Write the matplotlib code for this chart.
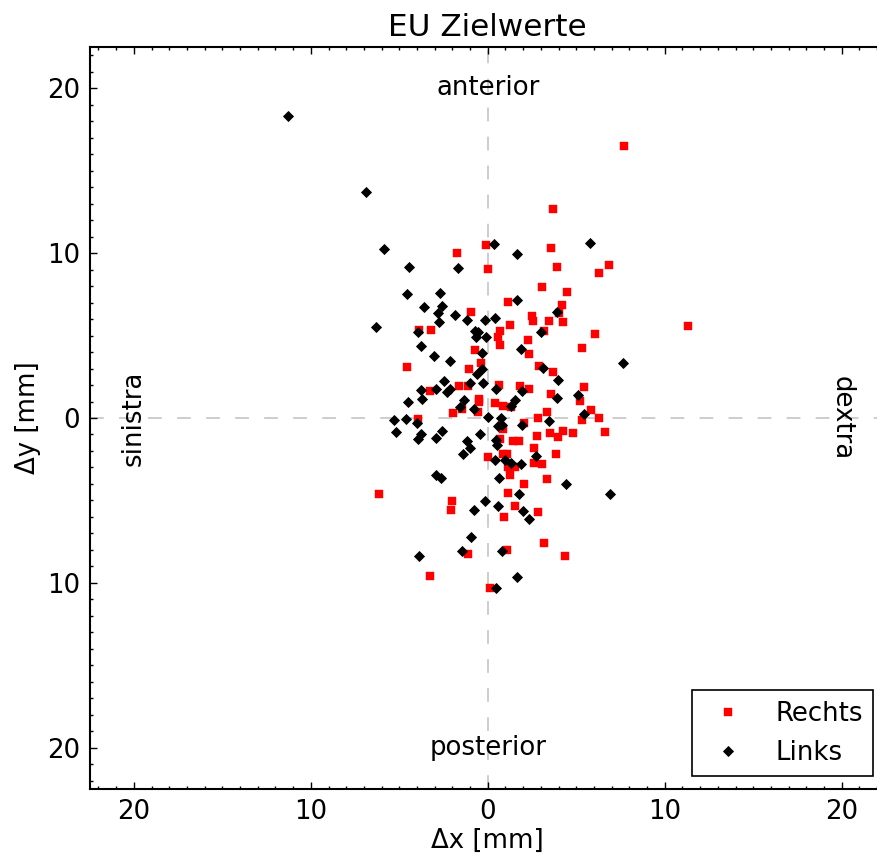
import matplotlib
matplotlib.use("Agg")
import matplotlib.pyplot as plt
from matplotlib.ticker import MultipleLocator, FuncFormatter

# ---- data (mm) ----
rechts_x = [-1.72, -0.08, 0.03, 3.71, 3.59, 3.93, 6.87, 6.31, 3.08, 4.50, 1.16, -0.93,
            -3.86, -3.19, 0.60, 0.69, -0.70, -0.36, -4.54, -1.04, -1.60, -1.10, 0.64,
            -3.24, -0.51, -0.49, -1.43, 0.43, -1.94, -0.53, -3.92, 0.03, -6.12, -2.00,
            -2.06, -1.10, -3.24, 0.15, 3.20, 1.11, 4.38, 4.21, 4.05, 2.52, 2.58, 3.48,
            4.27, 1.28, 6.08, 3.20, 0.69, 2.29, 5.34, 2.35, 2.92, 3.71, 1.84, 2.35,
            5.46, 3.59, 5.23, 1.33, 0.88, 5.85, 3.37, 6.31, 2.86, 5.34, 2.03, 0.88,
            3.54, 4.27, 4.84, 6.64, 3.99, 2.80, 0.71, 1.45, 1.77, 2.63, 3.88, 0.88,
            1.07, 1.13, 1.56, 2.63, 3.08, 1.28, 3.37, 2.07, 1.16, 1.56, 2.86, 0.94,
            7.70, 11.30]
rechts_y = [9.98, 10.47, 9.01, 12.70, 10.28, 9.13, 9.25, 8.77, 7.92, 7.62, 7.05, 6.40,
            5.31, 5.31, 4.89, 4.42, 4.10, 3.33, 3.07, 2.95, 1.92, 1.92, 2.00,
            1.62, 1.17, 0.99, 0.55, 0.89, 0.28, 0.36, -0.08, -2.38, -4.61, -5.03,
            -5.59, -8.26, -9.60, -10.34, -7.60, -8.02, -8.38, 6.85, 6.34, 6.16, 5.86, 5.86,
            5.80, 5.64, 5.07, 5.25, 5.25, 4.71, 4.22, 3.86, 3.13, 2.77, 1.94, 1.74,
            1.86, 1.44, 1.01, 0.65, 0.71, 0.48, 0.36, 0.02, 0.00, -0.14, -0.32, -0.69,
            -0.93, -0.81, -0.93, -0.87, -1.17, -1.11, -1.25, -1.41, -1.41, -1.84, -2.20, -2.20,
            -2.20, -2.95, -2.95, -2.75, -2.81, -3.47, -3.70, -4.00, -4.55, -5.35, -5.72, -6.02,
            16.50, 5.60]

links_x = [-11.30, -6.88, -5.86, 0.36, -4.43, -1.66, -4.56, -2.71, 1.66, 5.78, 1.67,
           -3.62, -2.60, -2.82, -1.83, -1.17, -2.75, -0.13, 0.41, -6.29, -3.94, -0.72,
           -0.53, -0.68, -0.10, -3.75, -0.32, -3.05, -2.13, -0.34, -0.60, -2.47, -0.98,
           -0.25, 0.47, -3.75, -2.94, -2.13, -2.28, -3.71, -1.34, -4.49, -1.55, -0.77,
           0.00, -5.32, -4.62, -4.01, -5.16, -3.79, -3.92, -2.56, -2.92, -0.43, -1.15,
           -1.00, -1.38, 0.45, 0.50, 0.43, -2.92, -2.64, 0.65, -0.17, -0.79, 0.60,
           -0.93, -1.45, -3.88, 0.47, 0.79, 1.67, 3.93, 3.01, 1.90, 7.63, 3.14, 3.97,
           1.94, 3.91, 5.08, 1.53, 1.30, 5.46, 0.75, 3.46, 1.94, 0.60, 0.81, 2.73,
           0.99, 1.32, 1.86, 4.42, 1.77, 6.93, 1.98, 2.32]
links_y = [18.30, 13.70, 10.26, 10.55, 9.15, 9.07, 7.50, 7.56, 9.92, 10.63, 7.15,
           6.71, 6.77, 6.34, 6.26, 5.96, 5.80, 5.94, 6.08, 5.52, 5.23, 5.29,
           5.21, 4.91, 4.93, 4.34, 3.94, 3.78, 3.47, 2.95, 2.67, 2.26, 2.14,
           2.14, 1.76, 1.72, 1.76, 1.74, 1.56, 1.15, 1.09, 0.95, 0.65, 0.55,
           0.04, -0.15, -0.05, -0.32, -0.83, -0.99, -1.27, -0.81, -1.21, -0.95, -1.39,
           -1.82, -2.18, -1.33, -1.64, -2.55, -3.47, -3.64, -3.64, -5.03, -5.59, -5.32,
           -7.23, -8.04, -8.38, -10.30, -8.04, -9.62, 6.42, 5.23, 4.16, 3.35, 3.03, 2.30,
           1.64, 1.21, 1.41, 1.11, 0.75, 0.22, 0.00, -0.18, -0.42, -0.46, -0.42, -2.30,
           -2.55, -2.71, -2.79, -4.00, -4.59, -4.62, -5.64, -6.12]

series_labels = ["Rechts", "Links"]
title = "EU Zielwerte"
direction_labels = ["anterior", "posterior", "sinistra", "dextra"]

FS = 18.7
plt.rcParams['font.family'] = ['DejaVu Sans']

fig = plt.figure(figsize=(8.78, 8.6), dpi=100)
fig.patch.set_facecolor('white')
ax = fig.add_axes([89.6 / 878, 1 - 789 / 860, (886 - 89.6) / 878, (789 - 47) / 860])

ax.axhline(0, color='#c0c0c0', lw=1.1, dashes=(9, 10), zorder=1)
ax.axvline(0, color='#c0c0c0', lw=1.1, dashes=(9, 10), zorder=1)

ax.plot(rechts_x, rechts_y, linestyle='none', marker='s', ms=5.4, color='red',
        mec='red', mew=0.3, label=series_labels[0], zorder=3)
ax.plot(links_x, links_y, linestyle='none', marker='D', ms=4.6, color='black',
        mec='black', mew=0.6, label=series_labels[1], zorder=4)

ax.set_xlim(-22.5, 22.5)
ax.set_ylim(-22.5, 22.5)

ax.xaxis.set_major_locator(MultipleLocator(10))
ax.yaxis.set_major_locator(MultipleLocator(10))
ax.xaxis.set_minor_locator(MultipleLocator(1))
ax.yaxis.set_minor_locator(MultipleLocator(1))
absfmt = FuncFormatter(lambda v, p: "%d" % abs(round(v)))
ax.xaxis.set_major_formatter(absfmt)
ax.yaxis.set_major_formatter(absfmt)

ax.tick_params(which='both', direction='in', top=True, right=True, width=1.0)
ax.tick_params(which='major', length=5, labelsize=FS, pad=7)
ax.tick_params(which='minor', length=2.5)
for s in ax.spines.values():
    s.set_linewidth(1.5)

ax.set_title(title, fontsize=22.4, pad=8)
ax.set_xlabel("\u0394x [mm]", fontsize=FS, labelpad=2)
ax.set_ylabel("\u0394y [mm]", fontsize=FS, labelpad=4)

ax.text(0, 20, direction_labels[0], ha='center', va='center', fontsize=FS)
ax.text(0, -20, direction_labels[1], ha='center', va='center', fontsize=FS)
ax.text(-20, 0, direction_labels[2], ha='center', va='center', fontsize=FS, rotation=90)
ax.text(20, 0, direction_labels[3], ha='center', va='center', fontsize=FS, rotation=270)

leg = ax.legend(loc='lower right', bbox_to_anchor=((873 - 89.6) / 796.4, 13 / 742),
                borderaxespad=0, numpoints=1, fontsize=FS, fancybox=False,
                borderpad=0.4, handlelength=2.0, handletextpad=0.8, labelspacing=0.5,
                framealpha=1, edgecolor='black')
leg.get_frame().set_linewidth(1.2)

fig.savefig("out.png", dpi=100)
